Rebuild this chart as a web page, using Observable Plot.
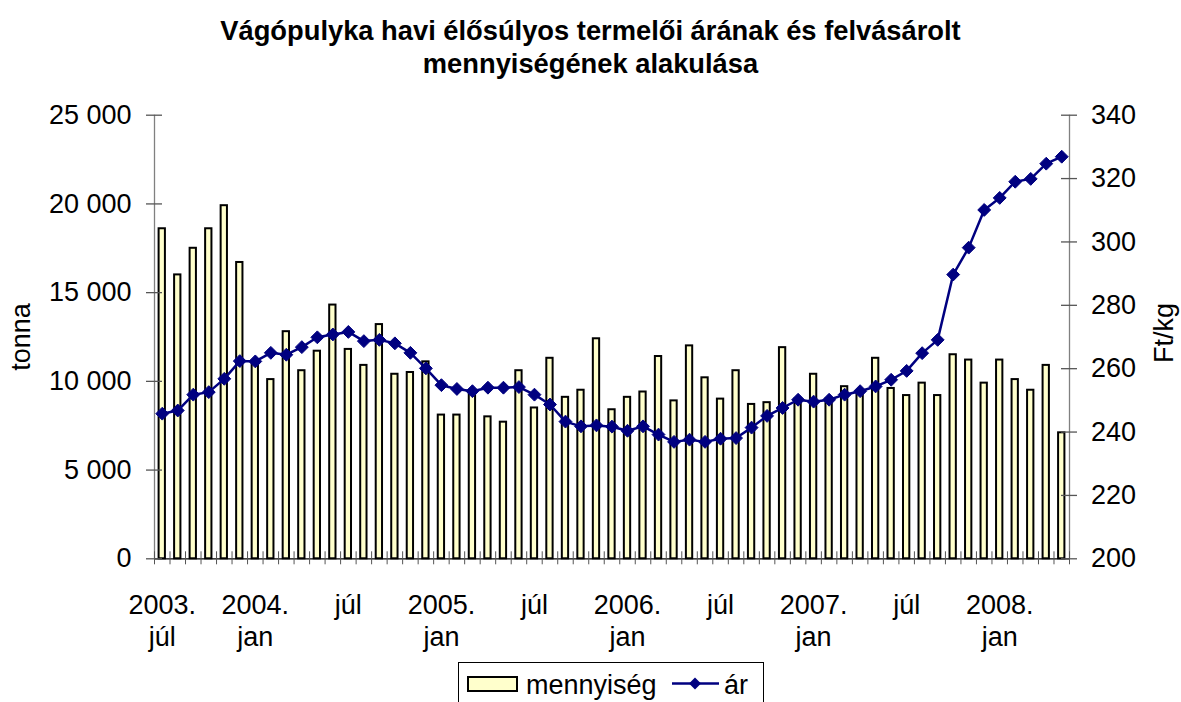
<!DOCTYPE html>
<html><head><meta charset="utf-8">
<script src="https://cdn.jsdelivr.net/npm/d3@7"></script>
<script src="https://cdn.jsdelivr.net/npm/@observablehq/plot@0.6"></script>
<style>
body{margin:0;background:#fff;font-family:"Liberation Sans",Arial,sans-serif;color:#000;}
#wrap{position:relative;width:1181px;height:702px;overflow:hidden;background:#fff;}
#title{position:absolute;left:0;top:0;width:1181px;text-align:center;font-weight:bold;font-size:27.3px;line-height:33px;padding-top:14px;}
#chart{position:absolute;left:0;top:100px;}
#legend{position:absolute;left:458px;top:662px;}
</style></head>
<body>
<div id="wrap">
  <div id="title">Vágópulyka havi élősúlyos termelői árának és felvásárolt<br>mennyiségének alakulása</div>
  <div id="chart"></div>
  <div id="legend"></div>
</div>
<script>
// ---- data ----
const months = [
  "2003-07","2003-08","2003-09","2003-10","2003-11","2003-12",
  "2004-01","2004-02","2004-03","2004-04","2004-05","2004-06","2004-07","2004-08","2004-09","2004-10","2004-11","2004-12",
  "2005-01","2005-02","2005-03","2005-04","2005-05","2005-06","2005-07","2005-08","2005-09","2005-10","2005-11","2005-12",
  "2006-01","2006-02","2006-03","2006-04","2006-05","2006-06","2006-07","2006-08","2006-09","2006-10","2006-11","2006-12",
  "2007-01","2007-02","2007-03","2007-04","2007-05","2007-06","2007-07","2007-08","2007-09","2007-10","2007-11","2007-12",
  "2008-01","2008-02","2008-03","2008-04","2008-05"
];
// mennyiség (tonna)
const quantity = [
  18600,16000,17500,18600,19900,16700,
  11000,10100,12800,10600,11700,14300,11800,10900,13200,10400,10500,11100,
  8100,8100,9300,8000,7700,10600,8500,11300,9100,9500,12400,8400,
  9100,9400,11400,8900,12000,10200,9000,10600,8700,8800,11900,9000,
  10400,9000,9700,9300,11300,9600,9200,9900,9200,11500,11200,9900,
  11200,10100,9500,10900,7100
];
// ár (Ft/kg)
const price = [
  245.8,246.8,251.8,252.6,256.8,262.4,
  262.3,265.0,264.4,266.8,269.9,270.8,271.6,268.7,269.1,268.0,265.0,260.1,
  254.8,253.6,252.9,254.0,254.0,254.2,251.8,248.7,243.3,241.8,242.1,241.7,
  240.4,241.8,239.2,236.9,237.6,236.9,237.9,238.1,241.4,245.1,247.6,250.2,
  249.6,250.2,251.8,252.9,254.4,256.5,259.3,264.9,269.1,289.7,298.2,310.1,
  313.9,319.0,319.9,324.7,326.9
];
const qtyTicks = [0, 5000, 10000, 15000, 20000, 25000];
const priceTicks = [200, 220, 240, 260, 280, 300, 320, 340];
const xLabelMonths = ["2003-07","2004-01","2004-07","2005-01","2005-07","2006-01","2006-07","2007-01","2007-07","2008-01"];
const xLabelTexts = ["2003.\njúl","2004.\njan","júl","2005.\njan","júl","2006.\njan","júl","2007.\njan","júl","2008.\njan"];
const seriesNames = ["mennyiség", "ár"];
const yLeftTitle = "tonna";
const yRightTitle = "Ft/kg";

// ---- chart ----
const qMax = qtyTicks[qtyTicks.length - 1];
const pMin = priceTicks[0], pMax = priceTicks[priceTicks.length - 1];
const toLeft = p => (p - pMin) / (pMax - pMin) * qMax;
const fromLeft = v => pMin + v / qMax * (pMax - pMin);
const n = months.length;
const rows = months.map((m, i) => ({i, m, q: quantity[i], p: price[i]}));
const fmt = d3.formatLocale({decimal: ",", thousands: " ", grouping: [3], currency: ["", ""]}).format(",d");
const labelMap = new Map(xLabelMonths.map((m, k) => [months.indexOf(m) + 0.5, xLabelTexts[k]]));

const font = '"Liberation Sans", Arial, sans-serif';
const chart = Plot.plot({
  width: 1181, height: 555,
  marginTop: 14.7, marginBottom: 96.7, marginLeft: 154, marginRight: 112,
  x: {domain: [0, n], axis: null},
  y: {domain: [0, qMax], axis: null},
  style: {fontFamily: font, fontSize: "27px", color: "#000", background: "transparent", overflow: "visible"},
  marks: [
    Plot.rectY(rows, {x1: d => d.i, x2: d => d.i + 1, y: "q", insetLeft: 4.6, insetRight: 4.6,
      fill: "#FFFFCC", stroke: "#000", strokeWidth: 2}),
    // axis lines
    Plot.ruleX([0, n], {stroke: "#808080", strokeWidth: 1.3}),
    Plot.ruleY([0], {stroke: "#000", strokeWidth: 1.3}),
    // x ticks at month boundaries
    Plot.ruleX(d3.range(n + 1), {y1: () => 0, y2: () => 0, insetTop: -7, insetBottom: -6, stroke: "#555", strokeWidth: 1}),
    // left ticks
    Plot.ruleY(qtyTicks, {x1: () => 0, x2: () => 0, insetLeft: -8, insetRight: -8, stroke: "#555", strokeWidth: 1.3}),
    // right ticks
    Plot.ruleY(priceTicks.map(toLeft), {x1: () => n, x2: () => n, insetLeft: -8, insetRight: -8, stroke: "#555", strokeWidth: 1.3}),
    // price line
    Plot.line(rows, {x: d => d.i + 0.5, y: d => toLeft(d.p), stroke: "#000080", strokeWidth: 2.5}),
    Plot.dot(rows, {x: d => d.i + 0.5, y: d => toLeft(d.p), symbol: "diamond2", r: 5.8, fill: "#000080", stroke: "#000080", strokeWidth: 1}),
    // axis labels
    Plot.axisY(qtyTicks, {anchor: "left", tickSize: 0, tickPadding: 23, tickFormat: fmt, fontSize: 27, label: null}),
    Plot.axisY(priceTicks.map(toLeft), {anchor: "right", tickSize: 0, tickPadding: 21.5, tickFormat: d => String(Math.round(fromLeft(d))), fontSize: 27, label: null}),
    Plot.axisX([...labelMap.keys()], {anchor: "bottom", tickSize: 0, tickPadding: 31.7, tickFormat: d => labelMap.get(d), fontSize: 27, lineHeight: 1.21, label: null}),
    Plot.text([yLeftTitle], {frameAnchor: "left", dx: -133, rotate: -90, textAnchor: "middle", fontSize: 27}),
    Plot.text([yRightTitle], {frameAnchor: "right", dx: 95, dy: -4, rotate: -90, textAnchor: "middle", fontSize: 27})
  ]
});
document.getElementById("chart").appendChild(chart);

// ---- legend ----
const lg = d3.select("#legend").append("svg").attr("width", 310).attr("height", 45)
  .style("font-family", font).style("overflow", "visible");
lg.append("rect").attr("x", 0.5).attr("y", 0.5).attr("width", 305).attr("height", 50).attr("fill", "#fff").attr("stroke", "#000").attr("stroke-width", 1);
lg.append("rect").attr("x", 10).attr("y", 15).attr("width", 49).attr("height", 14).attr("fill", "#FFFFCC").attr("stroke", "#000").attr("stroke-width", 2);
lg.append("text").attr("x", 68).attr("y", 32).attr("font-size", 27).text(seriesNames[0]);
lg.append("line").attr("x1", 214).attr("x2", 261).attr("y1", 21.5).attr("y2", 21.5).attr("stroke", "#000080").attr("stroke-width", 2.5);
lg.append("path").attr("d", "M237,15.5L243,21.5L237,27.5L231,21.5Z").attr("fill", "#000080");
lg.append("text").attr("x", 266).attr("y", 32).attr("font-size", 27).text(seriesNames[1]);
</script>
</body></html>
